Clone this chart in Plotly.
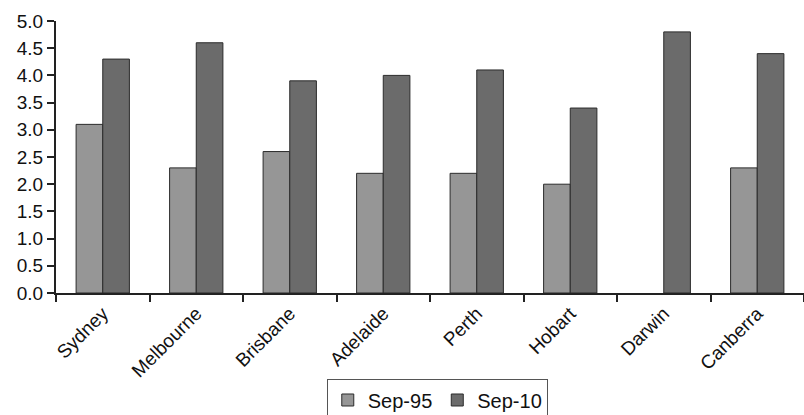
import plotly.graph_objects as go

cities = ["Sydney", "Melbourne", "Brisbane", "Adelaide", "Perth", "Hobart", "Darwin", "Canberra"]
sep95 = [3.1, 2.3, 2.6, 2.2, 2.2, 2.0, None, 2.3]
sep10 = [4.3, 4.6, 3.9, 4.0, 4.1, 3.4, 4.8, 4.4]
y_ticks = [0.0, 0.5, 1.0, 1.5, 2.0, 2.5, 3.0, 3.5, 4.0, 4.5, 5.0]

family = "Liberation Sans, Arial, sans-serif"
tick_font = dict(family=family, size=19, color="#111")
legend_font = dict(family=family, size=20, color="#111")

fig = go.Figure()
fig.add_trace(go.Bar(x=cities, y=sep95, name="Sep-95",
                     marker=dict(color="#969696", line=dict(color="#2b2b2b", width=1))))
fig.add_trace(go.Bar(x=cities, y=sep10, name="Sep-10",
                     marker=dict(color="#6b6b6b", line=dict(color="#2b2b2b", width=1))))

fig.update_layout(
    width=804, height=415,
    margin=dict(l=56, r=0, t=21, b=122, autoexpand=False),
    paper_bgcolor="white", plot_bgcolor="white",
    font=tick_font,
    barmode="group", bargap=0.43, bargroupgap=0,
    showlegend=True,
    legend=dict(orientation="h", x=0.362, xanchor="left", y=-0.318, yanchor="top",
                bordercolor="#555", borderwidth=1, font=legend_font,
                itemwidth=30, tracegroupgap=0),
    xaxis=dict(type="category", showline=True, linecolor="#222", linewidth=2,
               ticks="outside", tickson="boundaries", ticklen=7, tickwidth=2,
               tickcolor="#222", tickangle=-45, tickfont=tick_font,
               showgrid=False, zeroline=False, automargin=False),
    yaxis=dict(range=[0, 5], tickvals=y_ticks, tickformat=".1f",
               showline=True, linecolor="#222", linewidth=2,
               ticks="outside", ticklen=7, tickwidth=2, tickcolor="#222",
               tickfont=tick_font, showgrid=False, zeroline=False, automargin=False),
)

fig.write_html("out.html")
